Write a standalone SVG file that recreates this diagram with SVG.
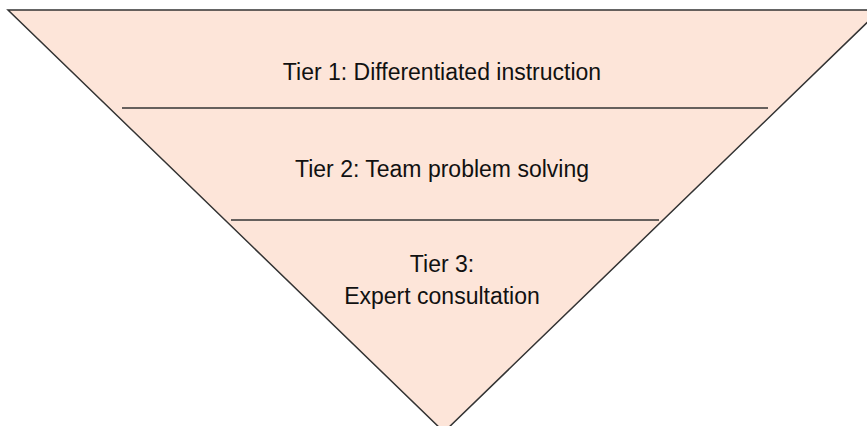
<svg xmlns="http://www.w3.org/2000/svg" width="867" height="426" viewBox="0 0 867 426">
  <style>
    .shape { fill: #FDE5D9; stroke: #333333; stroke-width: 1.5; }
    .divider { stroke: #333333; stroke-width: 1.5; fill: none; }
    .label { font-family: "Liberation Sans", Arial, sans-serif; font-size: 23px; fill: #111111; text-anchor: middle; }
  </style>
  <rect width="867" height="426" fill="#FFFFFF"/>
  <g id="pyramid">
    <polygon class="shape" points="8,10 880,10 444,432"/>
  </g>
  <g id="connectors">
    <line class="divider" x1="122" y1="108" x2="768" y2="108"/>
    <line class="divider" x1="231" y1="220" x2="659" y2="220"/>
  </g>
  <g id="tier1">
    <text class="label" x="442" y="79.5">Tier 1: Differentiated instruction</text>
  </g>
  <g id="tier2">
    <text class="label" x="442" y="177">Tier 2: Team problem solving</text>
  </g>
  <g id="tier3">
    <text class="label" x="442" y="272">Tier 3:</text>
    <text class="label" x="442" y="304">Expert consultation</text>
  </g>
</svg>
